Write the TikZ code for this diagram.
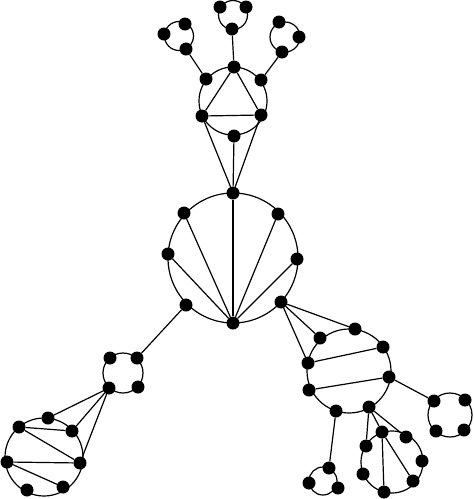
\documentclass[tikz,border=0pt]{standalone}
\usepackage{tikz}
\usetikzlibrary{positioning}

\tikzset{
  dot/.style={circle, fill=black, inner sep=0pt, minimum size=13pt},
  ring/.style={draw=black, line width=1.2pt},
  edge/.style={draw=black, line width=1.2pt}
}

\begin{document}
\begin{tikzpicture}[x=1pt, y=-1pt]
\useasboundingbox (0,0) rectangle (474,499);

% Rings
\draw[ring] (233,15) circle (14.5pt);
\draw[ring] (179,36) circle (14.5pt);
\draw[ring] (285,37) circle (15pt);
\draw[ring] (233,101) circle (34pt);
\draw[ring] (233,258) circle (65pt);
\draw[ring] (123,373) circle (20pt);
\draw[ring] (44,457) circle (39pt);
\draw[ring] (349,371) circle (42pt);
\draw[ring] (450,415) circle (22pt);
\draw[ring] (323,481) circle (14pt);
\draw[ring] (392,462) circle (31pt);

% Top small cycles
\node[dot] (um1) at (220,7) {};
\node[dot] (um2) at (246,7) {};
\node[dot] (um3) at (232,29) {};
\node[dot] (ul1) at (164,34) {};
\node[dot] (ul2) at (185,24) {};
\node[dot] (ul3) at (186,49) {};
\node[dot] (ur1) at (279,22) {};
\node[dot] (ur2) at (299,37) {};
\node[dot] (ur3) at (282,52) {};

% Top ring
\node[dot] (t1) at (234,67) {};
\node[dot] (t2) at (206,79) {};
\node[dot] (t3) at (261,80) {};
\node[dot] (t4) at (202,116) {};
\node[dot] (t5) at (261,115) {};
\node[dot] (t6) at (234,136) {};

% Middle ring
\node[dot] (m1) at (233,193) {};
\node[dot] (m2) at (184,213) {};
\node[dot] (m3) at (278,214) {};
\node[dot] (m4) at (168,254) {};
\node[dot] (m5) at (297,259) {};
\node[dot] (m6) at (186,305) {};
\node[dot] (m7) at (281,302) {};
\node[dot] (m8) at (233,323) {};

% Square cycle
\node[dot] (s1) at (110,358) {};
\node[dot] (s2) at (137,358) {};
\node[dot] (s3) at (109,388) {};
\node[dot] (s4) at (138,387) {};

% Bottom left ring
\node[dot] (b1) at (48,418) {};
\node[dot] (b2) at (19,427) {};
\node[dot] (b3) at (72,431) {};
\node[dot] (b4) at (7,462) {};
\node[dot] (b5) at (80,463) {};
\node[dot] (b6) at (27,490) {};
\node[dot] (b7) at (63,487) {};

% Right ring
\node[dot] (r1) at (355,329) {};
\node[dot] (r2) at (320,338) {};
\node[dot] (r3) at (308,363) {};
\node[dot] (r4) at (383,347) {};
\node[dot] (r5) at (389,377) {};
\node[dot] (r6) at (309,390) {};
\node[dot] (r7) at (336,411) {};
\node[dot] (r8) at (369,407) {};

% Far right cycle
\node[dot] (q1) at (434,401) {};
\node[dot] (q2) at (465,400) {};
\node[dot] (q3) at (436,431) {};
\node[dot] (q4) at (464,430) {};

% Bottom small cycle
\node[dot] (p1) at (329,468) {};
\node[dot] (p2) at (309,483) {};
\node[dot] (p3) at (338,488) {};

% Bottom medium ring
\node[dot] (d1) at (382,432) {};
\node[dot] (d2) at (406,437) {};
\node[dot] (d3) at (366,446) {};
\node[dot] (d4) at (422,461) {};
\node[dot] (d5) at (363,474) {};
\node[dot] (d6) at (413,481) {};
\node[dot] (d7) at (384,492) {};

% Edges
\foreach \a/\b in {um3/t1, ul3/t2, ur3/t3, t1/t4, t1/t5, t4/t5, t4/m1, t5/m1, t6/m1,
                   m8/m1, m8/m2, m8/m3, m8/m4, m8/m5,
                   m6/s2, s3/b1, s3/b3, s3/b5, b2/b3, b2/b5, b4/b5, b4/b7,
                   m7/r1, m7/r2, m7/r3, r3/r4, r6/r5, r5/q1, r7/p1,
                   r8/d1, r8/d2, r8/d3, d1/d7, d1/d6}
  \draw[edge] (\a) -- (\b);

\end{tikzpicture}
\end{document}
